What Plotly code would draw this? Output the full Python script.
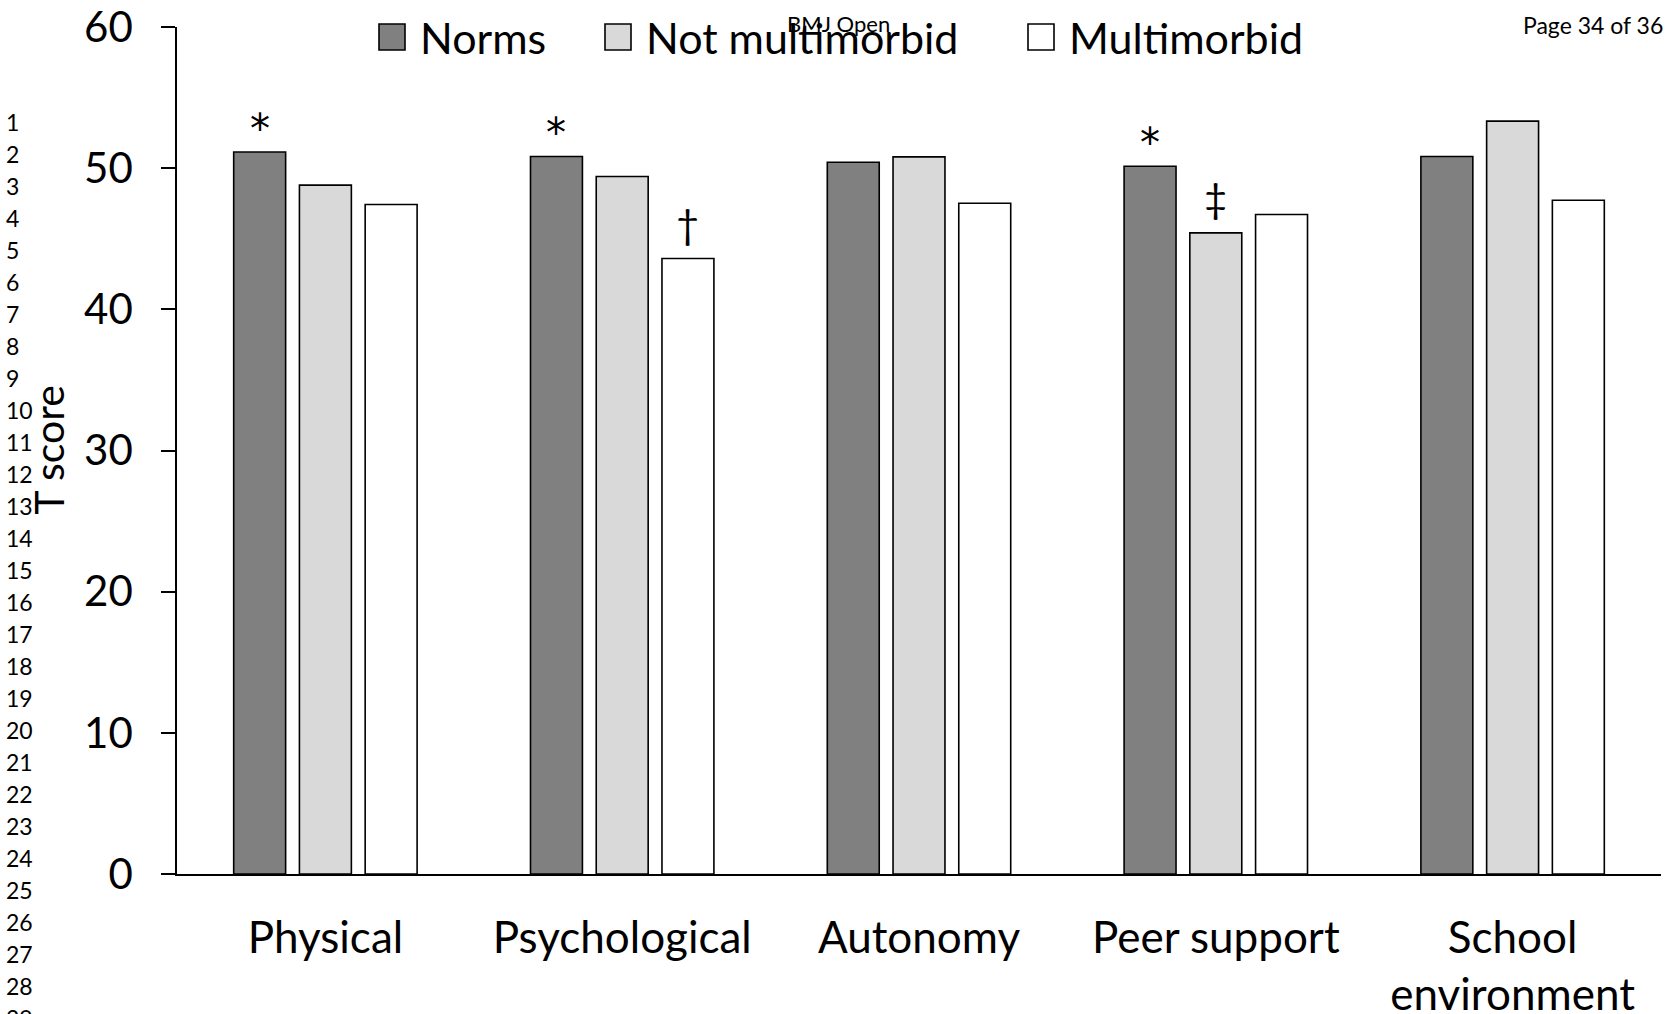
import plotly.graph_objects as go

# ---- data ----
categories = ["Physical", "Psychological", "Autonomy", "Peer support", "School<br>environment"]
series_names = ["Norms", "Not multimorbid", "Multimorbid"]
norms = [51.15, 50.83, 50.42, 50.14, 50.83]
not_multimorbid = [48.8, 49.41, 50.8, 45.42, 53.33]
multimorbid = [47.43, 43.6, 47.52, 46.72, 47.73]
y_ticks = [0, 10, 20, 30, 40, 50, 60]
# significance markers: (category index, series index, symbol)
markers = [(0, 0, "*"), (1, 0, "*"), (3, 0, "*"), (1, 2, "\u2020"), (3, 1, "\u2021")]
line_numbers = list(range(1, 30))

# ---- style ----
W, H = 1666, 1014
ML, MR, MT, MB = 177, 5, 27, 140
PW, PH = W - ML - MR, H - MT - MB
FONT = "Lato, 'Open Sans', sans-serif"
colors = ["#808080", "#d9d9d9", "#ffffff"]
BARGAP, BARGROUPGAP = 0.3355, 0.21


def px(xp):
    return (xp - ML) / PW


def py(yp):
    return (H - MB - yp) / PH


values = [norms, not_multimorbid, multimorbid]
fig = go.Figure()
for name, vals, col in zip(series_names, values, colors):
    fig.add_trace(go.Bar(
        x=categories, y=vals, name=name,
        marker=dict(color=col, line=dict(color="black", width=1.6)),
        showlegend=False,
    ))

# significance annotations
cat_px = PW / len(categories)
slot_px = (1 - BARGAP) / len(series_names) * cat_px
annotations = []
for ci, si, sym in markers:
    if sym == "*":
        f = dict(family="DejaVu Sans", size=40, color="black")
        ys = -2
    else:
        f = dict(family=FONT, size=40, color="black")
        ys = 9
    annotations.append(dict(
        x=categories[ci], y=values[si][ci], xref="x", yref="y",
        text=sym, showarrow=False, xanchor="center", yanchor="bottom",
        xshift=(si - 1) * slot_px, yshift=ys, font=f,
    ))

# y-axis title
annotations.append(dict(
    x=px(48), y=0.5, xref="paper", yref="paper", text="T score",
    textangle=-90, showarrow=False, xanchor="center", yanchor="middle",
    font=dict(family=FONT, size=41, color="black"),
))

# custom legend
leg_sq_left = [379, 605, 1028]
shapes = []
for name, col, x0 in zip(series_names, colors, leg_sq_left):
    shapes.append(dict(
        type="rect", xref="paper", yref="paper",
        x0=px(x0), x1=px(x0 + 26), y0=py(50), y1=py(24),
        fillcolor=col, line=dict(color="black", width=1.6), layer="above",
    ))
    annotations.append(dict(
        x=px(x0 + 39), y=py(37), xref="paper", yref="paper", text=name,
        showarrow=False, xanchor="left", yanchor="middle",
        font=dict(family=FONT, size=43, color="black"),
    ))

# page header
annotations.append(dict(
    x=px(838), y=py(23), xref="paper", yref="paper", text="BMJ Open",
    showarrow=False, xanchor="center", yanchor="middle",
    font=dict(family=FONT, size=22, color="black"),
))
annotations.append(dict(
    x=px(1521), y=py(25), xref="paper", yref="paper", text="Page 34 of 36",
    showarrow=False, xanchor="left", yanchor="middle",
    font=dict(family=FONT, size=23, color="black"),
))

# margin line numbers
for i, n in enumerate(line_numbers):
    annotations.append(dict(
        x=px(4), y=py(122 + 32 * i), xref="paper", yref="paper", text=str(n),
        showarrow=False, xanchor="left", yanchor="middle",
        font=dict(family=FONT, size=23, color="black"),
    ))

fig.update_layout(
    width=W, height=H,
    margin=dict(l=ML, r=MR, t=MT, b=MB, pad=0, autoexpand=False),
    paper_bgcolor="white", plot_bgcolor="white",
    barmode="group", bargap=BARGAP, bargroupgap=BARGROUPGAP,
    font=dict(family=FONT, color="black"),
    annotations=annotations, shapes=shapes,
    showlegend=False,
)
fig.update_xaxes(
    showline=True, linecolor="black", linewidth=1.6, ticks="",
    showgrid=False, zeroline=False, automargin=False,
    tickfont=dict(family=FONT, size=44, color="black"),
    ticklabelstandoff=24,
)
fig.update_yaxes(
    range=[0, 60.001], tickvals=y_ticks, showline=True, linecolor="black",
    linewidth=1.6, ticks="outside", ticklen=14, tickwidth=1.6, tickcolor="black",
    showgrid=False, zeroline=False, automargin=False,
    tickfont=dict(family=FONT, size=42, color="black"),
    ticklabelstandoff=20,
)

fig.write_html(
    "out.html",
    config={"displayModeBar": False},
    post_script="document.body.style.margin='0';document.body.style.overflow='hidden';",
)
